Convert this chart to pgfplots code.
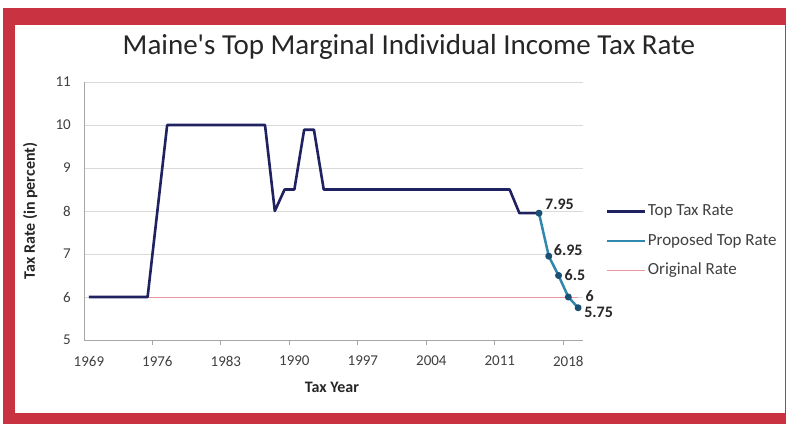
\documentclass[border=0pt]{standalone}
\usepackage{fontspec}
\setmainfont{Carlito}
\newfontfamily\plainfont{Carlito}
\usepackage{pgfplots}
\pgfplotsset{compat=1.18}
\usepackage{pgfplotstable}
\definecolor{framec}{RGB}{200,50,65}
\definecolor{toprate}{RGB}{32,33,96}
\definecolor{proposed}{RGB}{50,135,175}
\definecolor{propmark}{RGB}{25,80,115}
\definecolor{orig}{RGB}{232,150,160}
\definecolor{gridc}{RGB}{217,217,217}
\definecolor{axisc}{RGB}{166,166,166}
\definecolor{txt}{RGB}{64,64,64}

\pgfplotstableread{
year rate
1969 6
1975 6
1976 8
1977 10
1987 10
1988 8
1989 8.5
1990 8.5
1991 9.89
1992 9.89
1993 8.5
2012 8.5
2013 7.95
2014 7.95
2015 7.95
}\toprate

\pgfplotstableread{
year rate
2015 7.95
2016 6.95
2017 6.5
2018 6
2019 5.75
}\proposed

\pgfplotstableread{
year rate
1969 6
2019 6
}\original

\pgfplotsset{lbl/.style 2 args={forget plot, draw=none, mark=none, point meta=explicit symbolic, nodes near coords,
  nodes near coords style={anchor=west, inner sep=0pt, xshift=#1, yshift=#2,
    font=\bfseries\fontsize{16bp}{18bp}\selectfont, text=black!85}}}

\begin{document}
\begin{tikzpicture}[x=1bp,y=1bp]
\useasboundingbox (0,0) rectangle (786,424);
\fill[white] (0,0) rectangle (786,424);
\fill[framec] (3,0) rectangle (786,416);
\fill[white] (15,11) rectangle (785,399);
\node[font=\plainfont\fontsize{29bp}{32bp}\selectfont, text=black!85] at (409,377) {Maine's Top Marginal Individual Income Tax Rate};
\begin{axis}[
  at={(84bp,84bp)}, anchor=south west,
  scale only axis, width=499bp, height=258bp,
  xmin=1968.5, xmax=2019.5, ymin=5, ymax=11,
  xtick={1969,1976,...,2018}, ytick={5,...,11},
  extra x ticks={1975.5,1982.5,1989.5,1996.5,2003.5,2010.5,2017.5},
  extra x tick labels={},
  extra x tick style={grid=none, major tick length=5bp, tick align=outside, major tick style={draw=axisc, line width=1bp}},
  major tick length=0pt,
  axis lines*=left,
  axis line style={draw=axisc, line width=1bp},
  ymajorgrids, grid style={gridc, line width=0.8bp},
  /pgf/number format/assume math mode=true,
  /pgf/number format/1000 sep={},
  xticklabel style={font=\fontsize{15bp}{17bp}\selectfont, text=txt, inner sep=0pt, yshift=-16bp},
  yticklabel style={font=\fontsize{15bp}{17bp}\selectfont, text=txt, inner sep=0pt, xshift=-13bp},
  xlabel={Tax Year},
  xlabel style={at={(axis description cs:0.497,-0.182)}, anchor=center, font=\bfseries\fontsize{16bp}{18bp}\selectfont, text=black!85},
  ylabel={Tax Rate (in percent)},
  ylabel style={at={(axis description cs:-0.108,0.5)}, anchor=center, font=\bfseries\fontsize{16bp}{18bp}\selectfont, text=black!85},
  clip=false,
  legend cell align=left,
  legend image code/.code={\draw[#1, mark=none] (0bp,0bp) -- (38bp,0bp);},
  legend style={at={(1.0441,0.3837)}, anchor=west, draw=none, fill=none, inner sep=0pt,
    row sep=15.5bp, column sep=2bp, font=\fontsize{17bp}{20bp}\selectfont, text=txt,
    nodes={inner sep=0pt, text height=11bp, text depth=3bp}},
]
\addplot[orig, line width=1bp, forget plot] table[x=year,y=rate]{\original};
\addplot[toprate, line width=2.6bp, line join=round] table[x=year,y=rate]{\toprate};
\addlegendentry{Top Tax Rate}
\addplot[proposed, line width=2.5bp, line join=round, mark=*, mark size=2.2bp,
  mark options={fill=propmark, draw=propmark}]
  table[x=year,y=rate]{\proposed};
\addlegendentry{Proposed Top Rate}
\addlegendimage{orig, line width=1bp}
\addlegendentry{Original Rate}
\addplot[lbl={6bp}{9bp}] coordinates {(2015,7.95) [7.95]};
\addplot[lbl={5bp}{6bp}] coordinates {(2016,6.95) [6.95]};
\addplot[lbl={6bp}{0bp}] coordinates {(2017,6.5) [6.5]};
\addplot[lbl={17bp}{1bp}] coordinates {(2018,6) [6]};
\addplot[lbl={6bp}{-5bp}] coordinates {(2019,5.75) [5.75]};
\end{axis}
\end{tikzpicture}
\end{document}
